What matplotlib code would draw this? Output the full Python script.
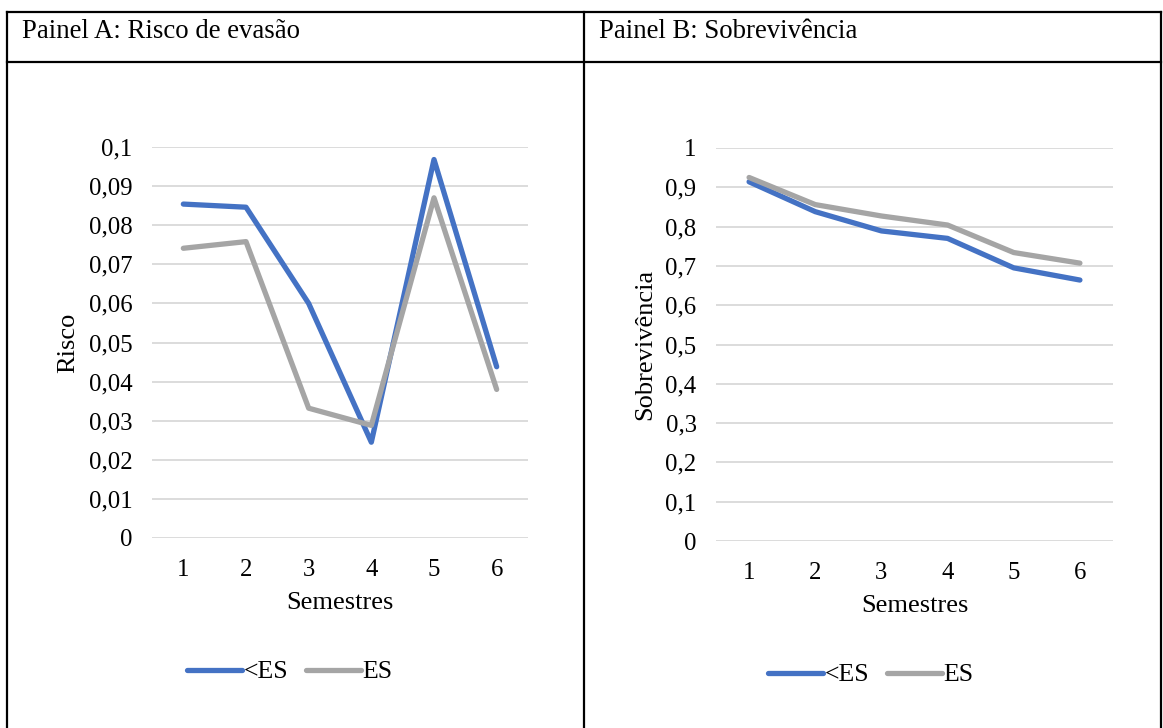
import numpy as np
import matplotlib.pyplot as plt
from matplotlib.lines import Line2D
from matplotlib.ticker import FuncFormatter

# Data
semestres = [1, 2, 3, 4, 5, 6]
risco_menos_es = [0.0854, 0.0846, 0.0600, 0.0245, 0.0968, 0.0438]
risco_es = [0.0741, 0.0758, 0.0332, 0.0288, 0.0870, 0.0380]
sobrev_menos_es = [0.914, 0.838, 0.789, 0.770, 0.695, 0.664]
sobrev_es = [0.925, 0.856, 0.827, 0.804, 0.734, 0.707]

titulos = ["Painel A: Risco de evasão", "Painel B: Sobrevivência"]
rotulos_y = ["Risco", "Sobrevivência"]
series_nomes = ["<ES", "ES"]

BLUE = "#4472C4"
GRAY = "#A5A5A5"
GRID = "#D9D9D9"

plt.rcParams['font.family'] = ['Liberation Serif', 'DejaVu Serif']

W, H = 1163, 728
fig = plt.figure(figsize=(W / 100, H / 100), dpi=100)


def fx(px):
    return px / W


def fy(py):
    return 1 - py / H


# Table borders
for xs, ys in [((7, 1161), (12, 12)), ((7, 1161), (62, 62)),
               ((7, 7), (12, 728)), ((584, 584), (12, 728)),
               ((1161, 1161), (12, 728))]:
    fig.add_artist(Line2D([fx(x) for x in xs], [fy(y) for y in ys],
                          color="black", lw=1.6))

fig.text(fx(22), fy(31), titulos[0], fontsize=19.3, va="center", ha="left")
fig.text(fx(599), fy(31), titulos[1], fontsize=19.3, va="center", ha="left")


def fmt(v, pos):
    s = f"{v:.2f}".rstrip("0").rstrip(".")
    return s.replace(".", ",")


panels = [
    dict(box=(152, 528, 147, 538), data=(risco_menos_es, risco_es),
         ylim=(0, 0.1), step=0.01, ylab_x=68, xlab_y=603, leg=(290, 672)),
    dict(box=(716, 1113, 148, 541), data=(sobrev_menos_es, sobrev_es),
         ylim=(0, 1), step=0.1, ylab_x=645, xlab_y=606, leg=(871, 675)),
]

for i, p in enumerate(panels):
    x0, x1, y0, y1 = p["box"]
    ax = fig.add_axes([fx(x0), fy(y1), fx(x1 - x0), (y1 - y0) / H])
    for vals, c, nome in zip(p["data"], (BLUE, GRAY), series_nomes):
        ax.plot(semestres, vals, color=c, lw=3.8, label=nome,
                solid_capstyle="round", zorder=3)
    ax.set_xlim(0.5, 6.5)
    ax.set_ylim(*p["ylim"])
    ax.set_yticks(np.arange(0, p["ylim"][1] + p["step"] / 2, p["step"]))
    ax.yaxis.set_major_formatter(FuncFormatter(fmt))
    ax.set_xticks(semestres)
    ax.grid(axis="y", color=GRID, lw=1.3)
    ax.set_axisbelow(True)
    for s in ax.spines.values():
        s.set_visible(False)
    ax.tick_params(length=0, labelsize=17.8)
    ax.tick_params(axis="y", pad=14)
    ax.tick_params(axis="x", pad=15)
    fig.text(fx(p["ylab_x"]), (fy(y0) + fy(y1)) / 2, rotulos_y[i],
             rotation=90, fontsize=19, ha="center", va="center")
    fig.text((fx(x0) + fx(x1)) / 2, fy(p["xlab_y"]), "Semestres",
             fontsize=19, ha="center", va="center")
    lx, ly = p["leg"]
    ax.legend(loc="center", bbox_to_anchor=(fx(lx), fy(ly)),
              bbox_transform=fig.transFigure, ncol=2, frameon=False,
              fontsize=18.5, handlelength=2.15, handletextpad=0.05,
              columnspacing=0.7)

fig.savefig("out.png", dpi=100, facecolor="white")
